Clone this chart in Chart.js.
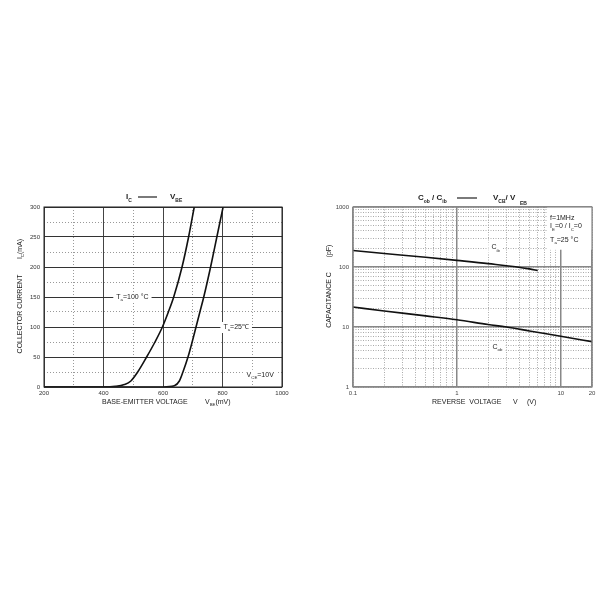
<!DOCTYPE html>
<html>
<head>
<meta charset="utf-8">
<script src="https://cdn.jsdelivr.net/npm/chart.js@4.4.1/dist/chart.umd.min.js"></script>
<style>
  html, body { margin: 0; padding: 0; background: #fff; }
  #wrap { position: relative; width: 600px; height: 600px; }
  canvas { position: absolute; }
</style>
</head>
<body>
<div id="wrap">
  <canvas id="icChart" width="300" height="230" style="left:0;top:185px"></canvas>
  <canvas id="capChart" width="300" height="230" style="left:300px;top:185px"></canvas>
</div>
<script>
// Ic - Vbe curves (mV, mA)
const vbe100 = [200, 400, 440, 470, 492, 515, 545, 573, 598, 618, 636, 664, 686, 705];
const ic100 = [0, 0, 1, 4, 10, 25, 50, 75, 100, 125, 150, 200, 250, 300];
const vbe25 = [200, 600, 638, 655, 667, 684, 698, 711, 724, 737, 760, 781, 802];
const ic25 = [0, 0, 2, 10, 25, 50, 75, 100, 125, 150, 200, 250, 300];
const vbeTicks = [200, 400, 600, 800, 1000];
const icTicks = [0, 50, 100, 150, 200, 250, 300];

// Cob / Cib - reverse voltage (V, pF)
const vrIb = [0.1, 0.2, 0.5, 1, 2, 5, 6];
const cib = [188, 168, 145, 129, 114, 93, 87];
const vrOb = [0.1, 0.2, 0.5, 1, 2, 3, 5, 10, 20];
const cob = [21.5, 18.5, 15.3, 13.2, 11, 10, 8.6, 7, 5.7];
const vrTicks = [0.1, 1, 10, 20];
const capTicks = [1, 10, 100, 1000];

const FAM = '"Liberation Sans", Arial, sans-serif';
Chart.defaults.font.family = FAM;
Chart.defaults.color = '#333';

const pts = (xs, ys) => xs.map((x, i) => ({ x: x, y: ys[i] }));
const fixW = w => s => { s.width = w; };
const fixH = h => s => { s.height = h; };
const setTicks = list => s => { s.ticks = list.map(v => ({ value: v })); };

// log grid positions 1..9 per decade (grid only, no data)
function logGrid(lo, hi) {
  const out = [];
  for (let d = lo; d < hi; d *= 10) {
    for (let k = 1; k <= 9; k++) {
      const v = +(k * d).toPrecision(3);
      if (v <= hi) out.push(v);
    }
  }
  out.push(hi);
  return out;
}

// parts: plain strings, '_xx' = subscript
function rich(ctx, x, y, parts, size, opts) {
  opts = opts || {};
  const font = s => (opts.bold ? 'bold ' : '') + s + 'px ' + FAM;
  const sub = size * 0.62;
  let w = 0;
  parts.forEach(p => {
    const isSub = p[0] === '_';
    ctx.font = font(isSub ? sub : size);
    w += ctx.measureText(isSub ? p.slice(1) : p).width;
  });
  let cx = opts.align === 'center' ? x - w / 2 : x;
  ctx.save();
  ctx.fillStyle = opts.color || '#222';
  ctx.textAlign = 'left';
  ctx.textBaseline = 'middle';
  parts.forEach(p => {
    const isSub = p[0] === '_';
    const t = isSub ? p.slice(1) : p;
    ctx.font = font(isSub ? sub : size);
    ctx.fillText(t, cx, isSub ? y + size * 0.45 : y);
    cx += ctx.measureText(t).width;
  });
  ctx.restore();
  return w;
}

function label(ctx, x, y, parts, size) {
  ctx.save();
  ctx.globalAlpha = 0;
  const w = rich(ctx, x, y, parts, size);
  ctx.restore();
  ctx.fillStyle = '#fff';
  ctx.fillRect(x - 3, y - 5, w + 6, 11);
  rich(ctx, x, y, parts, size);
}

function vText(ctx, x, y, parts, size) {
  ctx.save();
  ctx.translate(x, y);
  ctx.rotate(-Math.PI / 2);
  rich(ctx, 0, 0, parts, size, { align: 'center' });
  ctx.restore();
}

function dash(ctx, x1, x2, y) {
  ctx.save();
  ctx.strokeStyle = '#222';
  ctx.lineWidth = 1.2;
  ctx.beginPath();
  ctx.moveTo(x1, y);
  ctx.lineTo(x2, y);
  ctx.stroke();
  ctx.restore();
}

const curve = {
  borderColor: '#111',
  borderWidth: 1.6,
  pointRadius: 0,
  fill: false,
  cubicInterpolationMode: 'monotone'
};

const icDecor = {
  id: 'icDecor',
  beforeDatasetsDraw(chart) {
    const { ctx, scales: { x, y } } = chart;
    label(ctx, x.getPixelForValue(443), y.getPixelForValue(150), ['T', '_a', '=100 °C'], 7);
    label(ctx, x.getPixelForValue(803), y.getPixelForValue(100), ['T', '_a', '=25℃'], 7);
    label(ctx, x.getPixelForValue(881), y.getPixelForValue(20.5), ['V', '_CE', '=10V'], 7);
  },
  afterDraw(chart) {
    const { ctx, chartArea: a } = chart;
    ctx.save();
    ctx.strokeStyle = '#222';
    ctx.lineWidth = 1;
    ctx.strokeRect(a.left, a.top, a.right - a.left, a.bottom - a.top);
    ctx.restore();
    rich(ctx, 129, 12, ['I', '_C'], 8, { bold: true, align: 'center' });
    dash(ctx, 138, 157, 12);
    rich(ctx, 170, 12, ['V', '_BE'], 8, { bold: true });
    rich(ctx, 102, 217, ['BASE-EMITTER VOLTAGE'], 7);
    rich(ctx, 205, 217, ['V', '_BE', '(mV)'], 7);
    vText(ctx, 20, 129, ['COLLECTOR CURRENT'], 7);
    vText(ctx, 20, 64, ['I', '_C', '(mA)'], 7);
  }
};

new Chart(document.getElementById('icChart'), {
  type: 'line',
  data: {
    datasets: [
      Object.assign({ data: pts(vbe100, ic100), xAxisID: 'x', yAxisID: 'y' }, curve),
      Object.assign({ data: pts(vbe25, ic25), xAxisID: 'x', yAxisID: 'y' }, curve)
    ]
  },
  options: {
    responsive: false,
    animation: false,
    devicePixelRatio: 1,
    layout: { padding: { top: 22, right: 18, left: 0, bottom: 0 } },
    plugins: { legend: { display: false }, tooltip: { enabled: false } },
    scales: {
      x: {
        type: 'linear', min: 200, max: 1000,
        afterBuildTicks: setTicks(vbeTicks), afterFit: fixH(28),
        ticks: { autoSkip: false, maxRotation: 0, font: { size: 6 }, padding: 3, color: '#333', callback: v => String(v) },
        grid: { color: '#444', lineWidth: 1, drawTicks: false, z: -1 },
        border: { display: false }
      },
      y: {
        type: 'linear', min: 0, max: 300,
        afterBuildTicks: setTicks(icTicks), afterFit: fixW(44),
        ticks: { autoSkip: false, font: { size: 6 }, padding: 4, color: '#333', callback: v => String(v) },
        grid: { color: '#333', lineWidth: 1, drawTicks: false, z: -1 },
        border: { display: false }
      },
      xMinor: {
        type: 'linear', position: 'bottom', min: 200, max: 1000, afterFit: fixH(0),
        ticks: { display: false, stepSize: 100 },
        grid: { color: '#999', lineWidth: 1, drawTicks: false, z: -2 },
        border: { display: false, dash: [1, 2] }
      },
      yMinor: {
        type: 'linear', position: 'left', min: 0, max: 300, afterFit: fixW(0),
        ticks: { display: false, stepSize: 25 },
        grid: { color: '#999', lineWidth: 1, drawTicks: false, z: -2 },
        border: { display: false, dash: [1, 2] }
      }
    }
  },
  plugins: [icDecor]
});

const capDecor = {
  id: 'capDecor',
  beforeDatasetsDraw(chart) {
    const { ctx, chartArea: a, scales: { x, y } } = chart;
    const bx = x.getPixelForValue(7.4);
    const by = y.getPixelForValue(194);
    ctx.fillStyle = '#fff';
    ctx.fillRect(bx, a.top, a.right - bx, by - a.top);
    rich(ctx, x.getPixelForValue(7.9), y.getPixelForValue(664), ['f=1MHz'], 7);
    rich(ctx, x.getPixelForValue(7.9), y.getPixelForValue(475), ['I', '_E', '=0 / I', '_C', '=0'], 7);
    rich(ctx, x.getPixelForValue(7.9), y.getPixelForValue(285), ['T', '_a', '=25 °C'], 7);
    label(ctx, x.getPixelForValue(2.15), y.getPixelForValue(212), ['C', '_ib'], 7);
    label(ctx, x.getPixelForValue(2.2), y.getPixelForValue(4.7), ['C', '_ob'], 7);
  },
  afterDraw(chart) {
    const { ctx, chartArea: a } = chart;
    ctx.save();
    ctx.strokeStyle = '#888';
    ctx.lineWidth = 1.2;
    ctx.strokeRect(a.left, a.top, a.right - a.left, a.bottom - a.top);
    ctx.restore();
    rich(ctx, 118, 13, ['C', '_ob', ' / C', '_ib'], 8, { bold: true });
    dash(ctx, 157, 177, 13);
    rich(ctx, 193, 13, ['V', '_CB', '/ V'], 8, { bold: true });
    rich(ctx, 220, 19, ['EB'], 5, { bold: true });
    rich(ctx, 132, 217, ['REVERSE  VOLTAGE'], 7);
    rich(ctx, 213, 217, ['V'], 7);
    rich(ctx, 227, 217, ['(V)'], 7);
    vText(ctx, 29, 115, ['CAPACITANCE C'], 7);
    vText(ctx, 29, 66, ['(pF)'], 7);
  }
};

new Chart(document.getElementById('capChart'), {
  type: 'line',
  data: {
    datasets: [
      Object.assign({ data: pts(vrIb, cib), xAxisID: 'x', yAxisID: 'y' }, curve),
      Object.assign({ data: pts(vrOb, cob), xAxisID: 'x', yAxisID: 'y' }, curve)
    ]
  },
  options: {
    responsive: false,
    animation: false,
    devicePixelRatio: 1,
    layout: { padding: { top: 22, right: 8, left: 0, bottom: 0 } },
    plugins: { legend: { display: false }, tooltip: { enabled: false } },
    scales: {
      x: {
        type: 'logarithmic', min: 0.1, max: 20,
        afterBuildTicks: setTicks(vrTicks), afterFit: fixH(28),
        ticks: { autoSkip: false, maxRotation: 0, font: { size: 6 }, padding: 3, color: '#444', callback: v => String(v) },
        grid: { color: '#888', lineWidth: 1.5, drawTicks: false, z: -1 },
        border: { display: false }
      },
      y: {
        type: 'logarithmic', min: 1, max: 1000,
        afterBuildTicks: setTicks(capTicks), afterFit: fixW(53),
        ticks: { autoSkip: false, font: { size: 6 }, padding: 4, color: '#444', callback: v => String(v) },
        grid: { color: '#888', lineWidth: 1.5, drawTicks: false, z: -1 },
        border: { display: false }
      },
      xMinor: {
        type: 'logarithmic', position: 'bottom', min: 0.1, max: 20, afterFit: fixH(0),
        afterBuildTicks: setTicks(logGrid(0.1, 20)),
        ticks: { display: false },
        grid: { color: '#aaa', lineWidth: 1, drawTicks: false, z: -2 },
        border: { display: false, dash: [1, 1.5] }
      },
      yMinor: {
        type: 'logarithmic', position: 'left', min: 1, max: 1000, afterFit: fixW(0),
        afterBuildTicks: setTicks(logGrid(1, 1000)),
        ticks: { display: false },
        grid: { color: '#aaa', lineWidth: 1, drawTicks: false, z: -2 },
        border: { display: false, dash: [1, 1.5] }
      }
    }
  },
  plugins: [capDecor]
});
</script>
</body>
</html>
